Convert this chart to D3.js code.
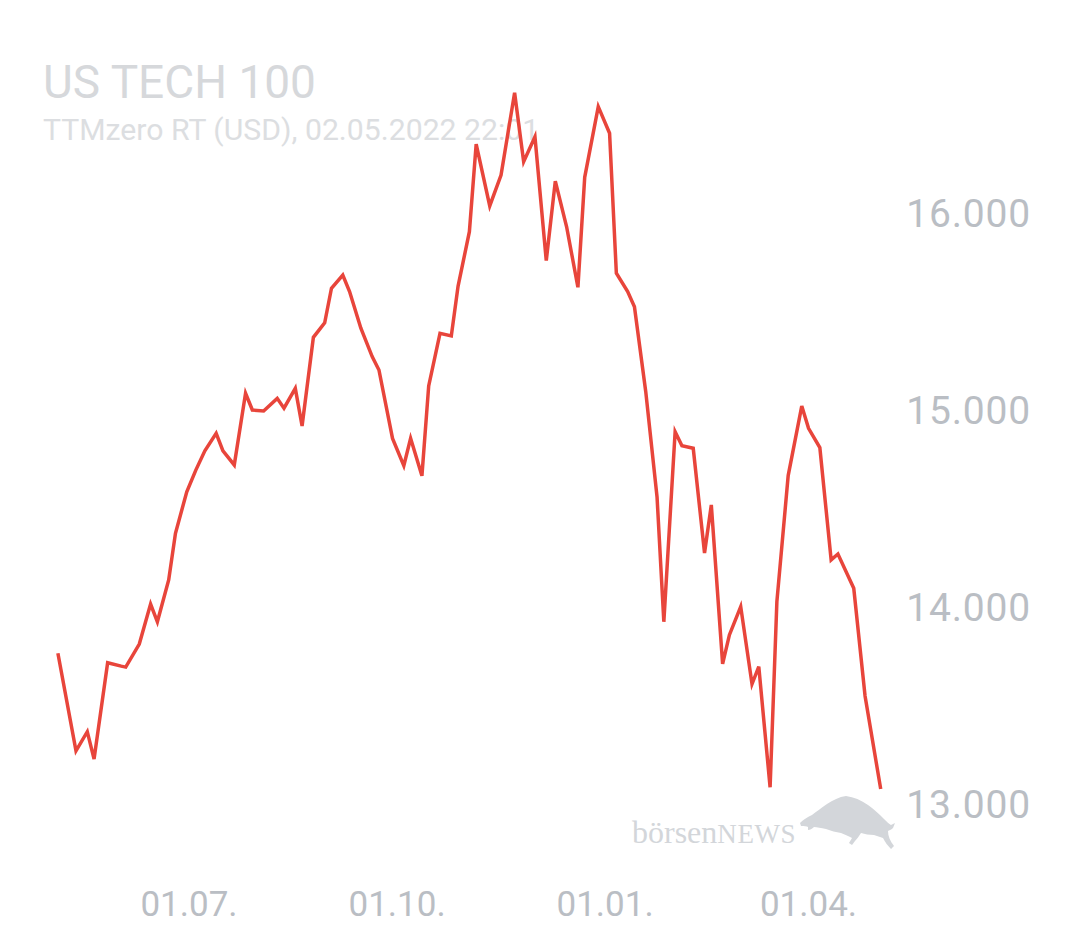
<!DOCTYPE html>
<html>
<head>
<meta charset="utf-8">
<script src="https://cdn.jsdelivr.net/npm/d3@7"></script>
<style>
  html, body { margin: 0; padding: 0; background: #ffffff; }
  svg { display: block; }
</style>
</head>
<body>
<svg id="chart" width="1080" height="945"></svg>
<script>
// ---- data ----
const title = "US TECH 100";
const subtitle = "TTMzero RT (USD), 02.05.2022 22:01";

const dates = [
  "2021-05-04","2021-05-12","2021-05-17","2021-05-20","2021-05-26","2021-06-01","2021-06-03","2021-06-09",
  "2021-06-14","2021-06-17","2021-06-22","2021-06-25","2021-06-30","2021-07-04","2021-07-08","2021-07-13",
  "2021-07-16","2021-07-21","2021-07-26","2021-07-29","2021-08-03","2021-08-09","2021-08-12","2021-08-17",
  "2021-08-20","2021-08-25","2021-08-30","2021-09-02","2021-09-07","2021-09-10","2021-09-15","2021-09-20",
  "2021-09-23","2021-09-29","2021-10-04","2021-10-07","2021-10-12","2021-10-15","2021-10-20","2021-10-25",
  "2021-10-28","2021-11-02","2021-11-05","2021-11-11","2021-11-16","2021-11-22","2021-11-26","2021-12-01",
  "2021-12-06","2021-12-10","2021-12-15","2021-12-20","2021-12-23","2021-12-29","2022-01-03","2022-01-06",
  "2022-01-11","2022-01-14","2022-01-19","2022-01-24","2022-01-27","2022-02-01","2022-02-04","2022-02-09",
  "2022-02-14","2022-02-17","2022-02-22","2022-02-25","2022-03-02","2022-03-07","2022-03-10","2022-03-15",
  "2022-03-18","2022-03-23","2022-03-29","2022-04-01","2022-04-06","2022-04-11","2022-04-14","2022-04-21",
  "2022-04-26","2022-05-02T22:01"
];
const values = [
  13765, 13270, 13367, 13228, 13717, 13700, 13695, 13812,
  14015, 13925, 14137, 14374, 14585, 14695, 14793, 14882,
  14793, 14721, 15085, 15000, 14995, 15059, 15009, 15110,
  14919, 15369, 15443, 15618, 15685, 15601, 15415, 15271,
  15203, 14856, 14717, 14856, 14666, 15122, 15389, 15376,
  15629, 15905, 16350, 16036, 16193, 16610, 16260, 16387,
  15758, 16162, 15930, 15623, 16181, 16540, 16405, 15694,
  15601, 15524, 15093, 14558, 13925, 14890, 14819, 14806,
  14274, 14518, 13711, 13858, 14002, 13609, 13697, 13085,
  14027, 14667, 15020, 14907, 14809, 14239, 14269, 14095,
  13548, 13076
];
const yTicks = [13000, 14000, 15000, 16000];
const xTicks = ["2021-07-01", "2021-10-01", "2022-01-01", "2022-04-01"];

// ---- setup ----
const svg = d3.select("#chart");
const de = d3.formatLocale({decimal: ",", thousands: ".", grouping: [3], currency: ["", " €"]});
const fmtY = de.format(",.0f");
const fmtX = d3.timeFormat("%d.%m.");

const data = dates.map((d, i) => ({date: new Date(d.length > 10 ? d : d + "T00:00"), value: values[i]}));

const x = d3.scaleTime()
  .domain(d3.extent(data, d => d.date))
  .range([57.9, 880.7]);
const y = d3.scaleLinear()
  .domain([13000, 16000])
  .range([804, 213]);

const axisColor = "#babec4";
const font = "Roboto, 'Noto Sans', sans-serif";

// ---- title ----
svg.append("text")
  .attr("x", 43).attr("y", 98)
  .attr("font-family", font).attr("font-size", 46)
  .attr("fill", "#d6d8db")
  .text(title);
svg.append("text")
  .attr("x", 43).attr("y", 140)
  .attr("font-family", font).attr("font-size", 30.2)
  .attr("fill", "#dcdee1")
  .text(subtitle);

// ---- logo ----
const logo = svg.append("g").attr("fill", "#d3d6da");
const lt = logo.append("text")
  .attr("x", 632).attr("y", 843)
  .attr("font-family", "'Liberation Serif', 'DejaVu Serif', serif");
lt.append("tspan").attr("font-size", 32).text("börsen");
lt.append("tspan").attr("font-size", 27).attr("letter-spacing", 0.6).text("NEWS");
logo.append("path")
  .attr("transform", "translate(799,796)")
  .attr("d", "M1,27 C4,24 8,21 13,19 C17,16 22,12 28,8 C34,4 40,1 47,0 C55,1 62,4 69,9 C75,13 80,18 85,23 C88,26 90,28 92,29 L96,27 L94,32 C92,34 90,34 89,35 C89,40 91,45 95,50 L92,53 C89,50 86,46 84,42 C81,41 78,40 75,39 C70,39 66,38 62,37 C60,40 58,43 56,45 L53,49 L50,47 L53,42 C50,40 46,39 42,37 C37,36 32,35 27,33 C22,32 18,31 15,31 C13,33 11,34 9,34 L9,31 C8,30 5,30 2,30 Z");

// ---- y axis labels ----
svg.append("g").selectAll("text")
  .data(yTicks).join("text")
  .attr("x", 1031)
  .attr("y", d => y(d))
  .attr("dy", "0.36em")
  .attr("text-anchor", "end")
  .attr("font-family", font).attr("font-size", 39)
  .attr("letter-spacing", 0.8)
  .attr("fill", axisColor)
  .text(d => fmtY(d));

// ---- x axis labels ----
svg.append("g").selectAll("text")
  .data(xTicks.map(d => new Date(d + "T00:00"))).join("text")
  .attr("x", d => x(d))
  .attr("y", 916)
  .attr("text-anchor", "middle")
  .attr("font-family", font).attr("font-size", 35)
  .attr("fill", axisColor)
  .text(d => fmtX(d));

// ---- line ----
const line = d3.line()
  .x(d => x(d.date))
  .y(d => y(d.value));
svg.append("path")
  .datum(data)
  .attr("fill", "none")
  .attr("stroke", "#e8453b")
  .attr("stroke-width", 3.5)
  .attr("stroke-linejoin", "miter")
  .attr("d", line);
</script>
</body>
</html>
